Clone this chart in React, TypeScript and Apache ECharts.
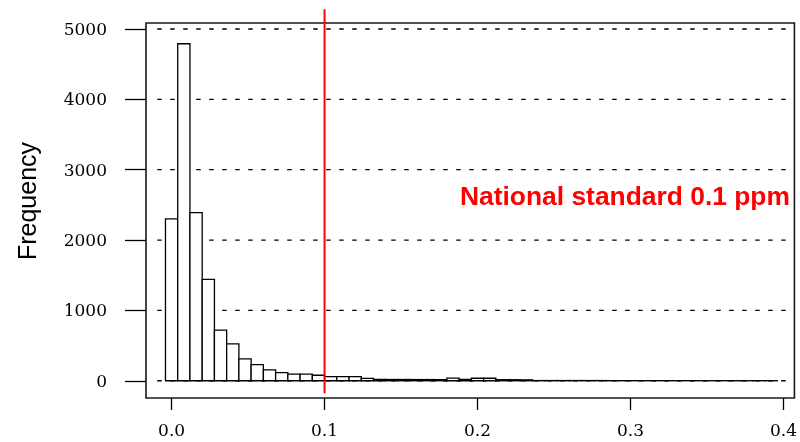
import React, { useEffect, useRef } from "react";
import * as echarts from "echarts";

// Histogram bins (left edge of first bin and bin width, in ppm)
const binStart = -0.004;
const binWidth = 0.008;
// Frequencies, one per bin
const counts = [
  2300, 4790, 2390, 1440, 720, 525, 310, 230, 155, 115,
  95, 95, 78, 58, 58, 58, 35, 20, 18, 18,
  17, 17, 16, 38, 20, 36, 36, 15, 15, 13,
  3, 3, 3, 3, 3, 3, 2, 2, 2, 2,
  2, 2, 2, 1, 1, 1, 1, 1, 1, 1,
];
const xTicks = [0, 0.1, 0.2, 0.3, 0.4];
const yTicks = [0, 1000, 2000, 3000, 4000, 5000];
const standardValue = 0.1;
const standardLabel = "National standard 0.1 ppm";
const yTitle = "Frequency";

export default function App() {
  const ref = useRef<HTMLDivElement>(null);
  useEffect(() => {
    if (!ref.current) return;
    const chart = echarts.init(ref.current, undefined, { renderer: "svg" });
    const bins = counts.map((c, i) => [binStart + i * binWidth, binStart + (i + 1) * binWidth, c]);
    const serif = "DejaVu Serif";
    const sans = "Liberation Sans, Arial, sans-serif";
    chart.setOption({
      animation: false,
      grid: {
        left: 146,
        right: 3,
        top: 23,
        bottom: 44,
        show: true,
        borderColor: "#1a1a1a",
        borderWidth: 1.6,
        backgroundColor: "transparent",
      },
      xAxis: {
        type: "value",
        min: -0.01673,
        max: 0.40716,
        axisLine: { show: false, onZero: false },
        splitLine: { show: false },
        axisTick: { show: true, length: 12, customValues: xTicks, lineStyle: { color: "#000", width: 1.3 } },
        axisLabel: {
          customValues: xTicks,
          formatter: (v: number) => v.toFixed(1),
          margin: 23,
          fontFamily: serif,
          fontSize: 17,
          color: "#000",
        },
      },
      yAxis: {
        type: "value",
        min: -245,
        max: 5085,
        axisLine: { show: false, onZero: false },
        splitLine: { show: false },
        axisTick: { show: true, length: 21, customValues: yTicks, lineStyle: { color: "#000", width: 1.3 } },
        axisLabel: {
          customValues: yTicks,
          formatter: (v: number) => String(v),
          margin: 39,
          fontFamily: serif,
          fontSize: 17,
          color: "#000",
        },
      },
      graphic: [
        {
          type: "text",
          x: 27,
          y: 201,
          rotation: Math.PI / 2,
          style: {
            text: yTitle,
            align: "center",
            verticalAlign: "middle",
            fontFamily: sans,
            fontSize: 25,
            fill: "#000",
          },
        },
        {
          type: "text",
          x: 460,
          y: 196,
          z: 100,
          style: {
            text: standardLabel,
            align: "left",
            verticalAlign: "middle",
            fontFamily: sans,
            fontWeight: "bold",
            fontSize: 26.4,
            fill: "#ff0000",
          },
        },
      ],
      series: [
        {
          type: "custom",
          name: "grid",
          data: yTicks.map((v) => [v]),
          encode: { y: 0 },
          silent: true,
          renderItem: (_p: any, api: any) => {
            const v = api.value(0);
            const a = api.coord([-0.0094, v]);
            const b = api.coord([0.404, v]);
            return {
              type: "line",
              shape: { x1: a[0], y1: a[1], x2: b[0], y2: b[1] },
              style: { stroke: "#000", lineWidth: 1.3, lineDash: [4.5, 8.5] },
            };
          },
          z: 1,
        },
        {
          type: "custom",
          name: "Frequency",
          data: bins,
          encode: { x: [0, 1], y: 2 },
          renderItem: (_p: any, api: any) => {
            const x0 = api.value(0);
            const x1 = api.value(1);
            const c = api.value(2);
            const p0 = api.coord([x0, c]);
            const p1 = api.coord([x1, 0]);
            return {
              type: "rect",
              shape: { x: p0[0], y: p0[1], width: p1[0] - p0[0], height: p1[1] - p0[1] },
              style: { fill: "#fff", stroke: "#000", lineWidth: 1.3 },
            };
          },
          z: 2,
        },
        {
          type: "line",
          name: "standard",
          data: [
            [standardValue, -178],
            [standardValue, 5280],
          ],
          showSymbol: false,
          symbol: "none",
          clip: false,
          lineStyle: { color: "#ff0000", width: 2 },
          z: 5,
        },
      ],
    });
    return () => chart.dispose();
  }, []);
  return <div ref={ref} style={{ width: 800, height: 442, position: "fixed", left: 0, top: 0 }} />;
}
